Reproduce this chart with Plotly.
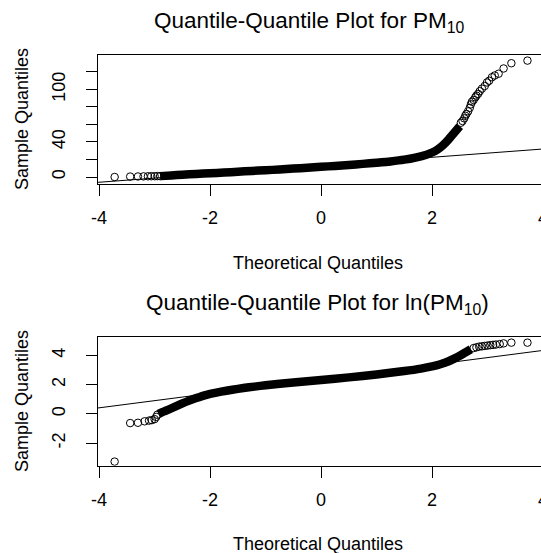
import plotly.graph_objects as go

W, H = 541, 553
FONT = "Liberation Sans, Arial, sans-serif"

# ---------------- data: PM10 ----------------
pm_band_x = [-2.9, -2.7, -2.5, -2.25, -2.0, -1.75, -1.5, -1.25, -1.0, -0.75, -0.5, -0.25, 0.0,
             0.25, 0.5, 0.75, 1.0, 1.25, 1.5, 1.7, 1.9, 2.0, 2.1, 2.2, 2.3, 2.4, 2.5]
pm_band_y = [1.0, 1.8, 2.6, 3.5, 4.3, 5.1, 6.0, 6.9, 7.7, 8.6, 9.6, 10.6, 11.6,
             12.7, 13.8, 15.0, 16.3, 17.8, 19.8, 22.2, 25.5, 28.0, 31.5, 36.5, 43.0, 50.5, 58.0]
pm_tail_x = [-3.72, -3.44, -3.30, -3.20, -3.12, -3.06, -3.00, -2.95, -2.90,
             2.52, 2.55, 2.58, 2.60, 2.62, 2.65, 2.68, 2.70, 2.72, 2.75, 2.78, 2.80, 2.83,
             2.86, 2.90, 2.95, 2.99, 3.03, 3.08, 3.13, 3.20, 3.29, 3.43, 3.72]
pm_tail_y = [0.0, 0.5, 0.6, 0.7, 0.8, 0.9, 0.9, 1.0, 1.0,
             62, 64, 67, 70, 72, 75, 79, 83, 86, 88, 91, 93, 95,
             98, 101, 104, 108, 110, 114, 116, 118, 124, 130, 133]
pm_line = (13.0, 4.75)  # intercept, slope

# ---------------- data: ln(PM10) ----------------
ln_band_x = [-2.93, -2.88, -2.8, -2.7, -2.6, -2.5, -2.4, -2.3, -2.2, -2.1, -2.0, -1.8, -1.6,
             -1.4, -1.2, -1.0, -0.5, 0.0, 0.5, 1.0, 1.5, 1.8, 2.0, 2.15, 2.3, 2.4, 2.5, 2.6, 2.7]
ln_band_y = [0.0, 0.1, 0.22, 0.38, 0.55, 0.72, 0.88, 1.02, 1.15, 1.27, 1.37, 1.53, 1.66,
             1.77, 1.87, 1.96, 2.15, 2.32, 2.5, 2.7, 2.93, 3.1, 3.25, 3.4, 3.6, 3.78, 3.98, 4.2, 4.42]
ln_tail_x = [-3.72, -3.44, -3.30, -3.18, -3.10, -3.05, -3.00, -2.97, -2.95,
             2.75, 2.80, 2.85, 2.90, 2.95, 3.00, 3.05, 3.10, 3.15, 3.22, 3.29, 3.43, 3.72]
ln_tail_y = [-3.25, -0.62, -0.60, -0.50, -0.45, -0.42, -0.35, -0.20, -0.05,
             4.50, 4.55, 4.60, 4.62, 4.65, 4.67, 4.70, 4.72, 4.74, 4.77, 4.82, 4.87, 4.87]
ln_line = (2.38, 0.49)

x_ticks = [-4, -2, 0, 2]
x_ticktext = ["-4", "-2", "0", "2"]
pm_ticks = [0, 40, 100]
pm_minor_ticks = [20, 60, 80, 120]
ln_ticks = [-2, 0, 2, 4]
ln_ticktext = ["-2", "0", "2", "4"]

# ---------------- geometry (pixels) ----------------
x_left_px = 98
x_range = [-4.02, 3.964]
top_box = (55, 183.8)
bot_box = (337, 465.7)
pm_range = [-7.77, 139.4]
ln_range = [-3.53, 5.256]
TICK_FS = 18


def py(px):
    return (H - px) / H


fig = go.Figure()

for (bx, by, tx, ty, (a, b), xa, ya) in [
    (pm_band_x, pm_band_y, pm_tail_x, pm_tail_y, pm_line, "x", "y"),
    (ln_band_x, ln_band_y, ln_tail_x, ln_tail_y, ln_line, "x2", "y2"),
]:
    lx = [-4.2, 4.2]
    ly = [a + b * v for v in lx]
    fig.add_trace(go.Scatter(x=lx, y=ly, mode="lines", line=dict(color="black", width=1),
                             xaxis=xa, yaxis=ya, showlegend=False, hoverinfo="skip"))
    fig.add_trace(go.Scatter(x=bx, y=by, mode="lines",
                             line=dict(color="black", width=8.5, shape="spline", smoothing=0.6),
                             xaxis=xa, yaxis=ya, showlegend=False))
    fig.add_trace(go.Scatter(x=tx, y=ty, mode="markers",
                             marker=dict(symbol="circle-open", size=7.5, color="black",
                                         line=dict(width=1, color="black")),
                             xaxis=xa, yaxis=ya, showlegend=False))

ax_common = dict(range=x_range, domain=[x_left_px / W, 1], showgrid=False, zeroline=False,
                 showline=True, linecolor="black", linewidth=1, mirror=True,
                 ticks="outside", ticklen=11, tickcolor="black", tickwidth=1,
                 tickvals=x_ticks, ticktext=x_ticktext, ticklabelstandoff=7,
                 tickfont=dict(family=FONT, size=TICK_FS, color="black"))
ay_common = dict(showgrid=False, zeroline=False, showline=True, linecolor="black", linewidth=1,
                 ticks="outside", ticklen=11, tickcolor="black", tickwidth=1, tickangle=-90,
                 ticklabelstandoff=14,
                 tickfont=dict(family=FONT, size=TICK_FS, color="black"))

fig.update_layout(
    width=W, height=H, margin=dict(l=0, r=0, t=0, b=0, pad=0, autoexpand=False),
    paper_bgcolor="white", plot_bgcolor="white",
    xaxis=dict(anchor="y", **ax_common),
    xaxis2=dict(anchor="y2", **ax_common),
    yaxis=dict(anchor="x", domain=[py(top_box[1]), py(top_box[0])], range=pm_range,
               tickvals=pm_ticks,
               minor=dict(tickvals=pm_minor_ticks, ticks="outside", ticklen=11,
                          tickcolor="black", tickwidth=1, showgrid=False),
               **ay_common),
    yaxis2=dict(anchor="x2", domain=[py(bot_box[1]), py(bot_box[0])], range=ln_range,
                tickvals=ln_ticks, ticktext=ln_ticktext, **ay_common),
)

ann = []
def add_text(text, xpx, ypx, size, angle=0):
    ann.append(dict(text=text, x=xpx / W, y=py(ypx), xref="paper", yref="paper",
                    xanchor="center", yanchor="middle", showarrow=False, textangle=angle,
                    font=dict(family=FONT, size=size, color="black")))

add_text("Quantile-Quantile Plot for PM<sub>10</sub>", 309, 22, 22.5)
add_text("Theoretical Quantiles", 318, 263, 18)
add_text("Sample Quantiles", 22, 119, 18, -90)
add_text("Quantile-Quantile Plot for ln(PM<sub>10</sub>)", 317, 304, 22.5)
add_text("Theoretical Quantiles", 318, 544, 18)
add_text("Sample Quantiles", 22, 401, 18, -90)
x4 = x_left_px + (4 - x_range[0]) / (x_range[1] - x_range[0]) * (W - x_left_px)
add_text("4", x4, 218, TICK_FS)
add_text("4", x4, 500, TICK_FS)
fig.update_layout(annotations=ann)

fig.write_html("out.html")
